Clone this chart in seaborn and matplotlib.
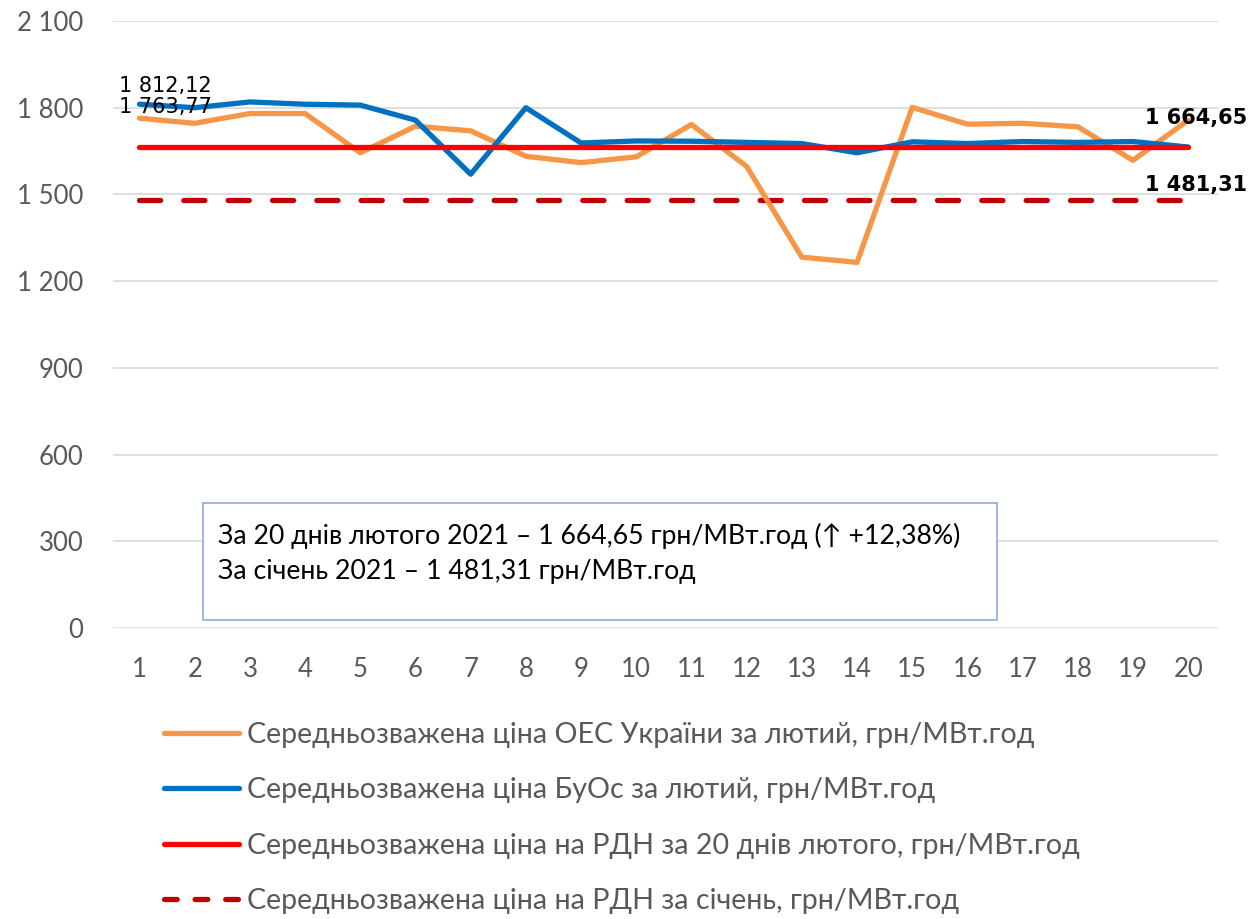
import matplotlib
matplotlib.use("Agg")
import matplotlib.pyplot as plt
import numpy as np
import pandas as pd
import seaborn as sns
from matplotlib.lines import Line2D
from matplotlib.patches import Rectangle

days = list(range(1, 21))
oes_price = [1763.77, 1746, 1780, 1780, 1644, 1736, 1720, 1632, 1610, 1630,
             1742, 1597, 1283, 1265, 1801, 1743, 1746, 1734, 1618, 1757]
buos_price = [1812.12, 1800, 1820, 1812, 1809, 1757, 1570, 1800, 1678, 1685,
              1684, 1680, 1676, 1644, 1682, 1676, 1683, 1680, 1683, 1664]
rdn_feb = 1664.65
rdn_jan = 1481.31

labels = [
    "Середньозважена ціна ОЕС України за лютий, грн/МВт.год",
    "Середньозважена ціна БуОс за лютий, грн/МВт.год",
    "Середньозважена ціна на РДН за 20 днів лютого, грн/МВт.год",
    "Середньозважена ціна на РДН за січень, грн/МВт.год",
]
colors = ["#F79646", "#0070C0", "#FF0000", "#C00000"]
yticks = [0, 300, 600, 900, 1200, 1500, 1800, 2100]

df = pd.DataFrame({
    "day": days,
    "oes": oes_price,
    "buos": buos_price,
    "feb": [rdn_feb] * len(days),
    "jan": [rdn_jan] * len(days),
})

sns.set_theme(style="white")
plt.rcParams["font.family"] = ["Lato", "DejaVu Sans"]

fig = plt.figure(figsize=(12.51, 9.19), dpi=100)
ax = fig.add_axes([113 / 1251, 1 - 628 / 919, 1105 / 1251, 607 / 919])

lw = 3.8
sns.lineplot(data=df, x="day", y="oes", ax=ax, color=colors[0], lw=lw,
             solid_capstyle="round", zorder=3)
sns.lineplot(data=df, x="day", y="buos", ax=ax, color=colors[1], lw=lw,
             solid_capstyle="round", zorder=4)
sns.lineplot(data=df, x="day", y="feb", ax=ax, color=colors[2], lw=lw,
             solid_capstyle="round", zorder=5)
jan_line = ax.plot(df["day"], df["jan"], color=colors[3], lw=lw,
                   dash_capstyle="round", zorder=2)[0]
jan_line.set_dashes((4.0, 4.4))

ax.set_xlim(0.52, 20.54)
ax.set_ylim(0, 2100)
ax.set_yticks(yticks)
ax.set_yticklabels([f"{v:,}".replace(",", " ") for v in yticks],
                   fontsize=18.5)
ax.set_xticks(days)
ax.set_xticklabels([str(d) for d in days], fontsize=18.5)
ax.tick_params(axis="both", length=0, labelcolor="#595959")
ax.tick_params(axis="x", pad=21)
ax.tick_params(axis="y", pad=21.5)
ax.set_xlabel("")
ax.set_ylabel("")
ax.grid(axis="y", color="#D9D9D9", lw=1.2)
ax.set_axisbelow(True)
for s in ax.spines.values():
    s.set_visible(False)


def fmt(v):
    return f"{v:,.2f}".replace(",", " ").replace(".", ",")


ax.annotate(fmt(buos_price[0]), (days[0], buos_price[0]), xytext=(-15, 13),
            textcoords="offset points", ha="left", va="center", fontsize=15,
            color="black", family="DejaVu Sans", zorder=6)
ax.annotate(fmt(oes_price[0]), (days[0], oes_price[0]), xytext=(-15, 8),
            textcoords="offset points", ha="left", va="center", fontsize=15,
            color="black", family="DejaVu Sans", zorder=6)
ax.annotate(fmt(rdn_feb), (days[-1], rdn_feb), xytext=(-31, 21),
            textcoords="offset points", ha="left", va="center", fontsize=15,
            fontweight="bold", color="black", family="DejaVu Sans", zorder=6)
ax.annotate(fmt(rdn_jan), (days[-1], rdn_jan), xytext=(-31, 11),
            textcoords="offset points", ha="left", va="center", fontsize=15,
            fontweight="bold", color="black", family="DejaVu Sans", zorder=6)

box = Rectangle((0.0814, 0.0132), 0.7186, 0.193, transform=ax.transAxes,
                facecolor="white", edgecolor="#8FAADC", lw=1.2, zorder=7)
ax.add_patch(box)
ax.text(0.095, 0.151,
        "За 20 днів лютого 2021 – 1 664,65 грн/МВт.год (↑ +12,38%)",
        transform=ax.transAxes, ha="left", va="center", fontsize=19.2,
        color="black", zorder=8)
ax.text(0.095, 0.0936, "За січень 2021 – 1 481,31 грн/МВт.год",
        transform=ax.transAxes, ha="left", va="center", fontsize=19.2,
        color="black", zorder=8)

handles = [
    Line2D([], [], color=colors[0], lw=lw),
    Line2D([], [], color=colors[1], lw=lw),
    Line2D([], [], color=colors[2], lw=lw),
    Line2D([], [], color=colors[3], lw=lw, dashes=(2.4, 3.4),
           dash_capstyle="round"),
]
leg = fig.legend(handles, labels, loc="upper left",
                 bbox_to_anchor=(138 / 1251, 1 - 696 / 919), ncol=1,
                 frameon=False, fontsize=20.6, handlelength=2.64,
                 handletextpad=0.27, labelspacing=1.03, labelcolor="#595959")

fig.savefig("out.png", dpi=100)
